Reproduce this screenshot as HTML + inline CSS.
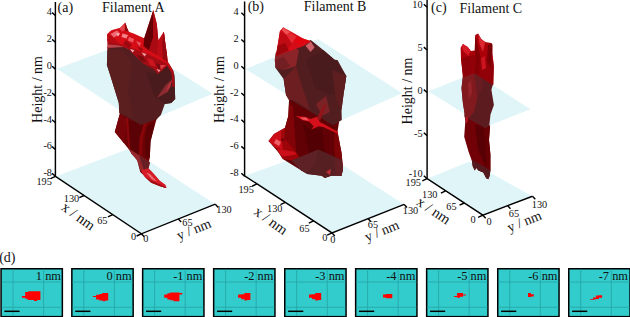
<!DOCTYPE html>
<html><head><meta charset="utf-8"><title>Filaments</title>
<style>
html,body{margin:0;padding:0;background:#fff;}
body{width:630px;height:317px;overflow:hidden;}
svg{display:block;font-family:"Liberation Serif",serif;}
.ax{stroke:#000;stroke-width:1.45;fill:none;stroke-linecap:butt}
.tk{stroke:#000;stroke-width:1.4;fill:none}
.tl{font-size:10.3px;fill:#111;text-anchor:middle}
.al{font-size:14px;fill:#111;text-anchor:middle}
.ti{font-size:14px;fill:#111}
.pl{fill:#e0f5f8}
.pn{font-size:12.4px;fill:#111;text-anchor:end}
</style></head><body>
<svg width="630" height="317" viewBox="0 0 630 317">
<rect width="630" height="317" fill="#fff"/>

<!-- ================= PANEL A ================= -->
<g id="pa">
<!-- bottom plane z=-8 -->
<polygon class="pl" points="55.4,176.4 129.5,148.5 215.3,204.2 141.4,233.8"/>
<!-- filament lower part (below z=0 plane, outside) -->
<polygon fill="#6e0307" points="119.6,112 119.6,114.5 114.8,132 129,149.4 131.5,153.7 137,159.3 140.2,172 149,180 164.8,187.9 166.4,187.3 156,178.3 147.4,168 149.8,157.7 150.5,141.5 156,121 160,112"/>
<polygon fill="#760408" points="119.6,114.5 114.8,132 124,143 127,119"/>
<polygon fill="#5a0205" points="129,120 143,124 140,138 139,158 133,155 129.5,148"/>
<polygon fill="#8c070b" points="126,118 128,118 130.3,149 129,149.4 127.5,140"/>
<polygon fill="#88060a" points="144,123 147.5,122 143,136 141.5,156 139,157 139.5,138"/>
<polygon fill="#5c0205" points="147,126 155,122 150.5,141.5 149.8,157.7 145,157 145,138"/>
<!-- tail through bottom plane -->
<polygon fill="#94282d" points="129.3,148.8 149.9,162.3 148.6,168.6 140.8,171.5 137.3,160.8 131.5,153.7"/>
<polygon fill="#691e23" points="139,155.2 149.9,162.3 148.6,168.6 144,170.3"/>
<polygon fill="#d41a24" points="140.8,170.3 148.6,168.2 153.8,173.8 159.9,180.7 165.4,184.7 166.6,187.9 159.9,186.2 151.2,182.8 144.3,176.6"/>
<polygon fill="#ec6a70" points="146,172.5 150,174 157,181.5 152,179.5"/>
<polygon fill="#9a0c12" points="144.3,176.6 151.2,182.8 159.9,186.2 166.6,187.9 160,184.5 152,181"/>
<!-- z=0 plane -->
<polygon class="pl" points="56.8,68.7 130,41.5 212.7,93.7 140.8,124.3"/>
<!-- filament mid part seen through plane: dark maroon -->
<polygon fill="#541e20" points="107.4,47 120,45 135.8,52 150,60 169.6,64.7 174.4,74.5 175.2,99 171.2,103 164.8,104 160.9,115 157.2,118.8 140.9,124.9 119.3,113 118.8,103 110,74.5 106.9,65"/>
<polygon fill="#4a1b1d" points="146,72 158,74 167.3,66 174.4,76 175.2,99 171.2,103 164.8,104 154,96"/>
<polygon fill="#5c1f20" points="107.4,50 122,50 132,62 128,90 133,118 119.4,112.5 118.8,103 110,74.5 106.9,65"/>
<polygon fill="#8a2a2e" points="172.3,79.3 165.6,85 156.8,98.1 168,92"/>
<polygon fill="#b4323a" points="172.3,79.3 168,85.5 166,91 170,88"/>
<!-- transitional band -->
<polygon fill="#a60c14" points="107.4,38 120,41 135.8,46.5 148.4,51.2 167.3,60.7 173.6,71 174.6,87 172.3,87 171.5,73 167.3,66 157.9,73.9 153.9,69.2 143.7,63.7 135.8,56.6 127.9,48.7 120,46.3 107.4,48.8"/>
<polygon fill="#b84850" points="108,44.5 119,45.5 124,47 119,47.3 108,47.8"/>
<polygon fill="#780a10" points="137,55 143,56.5 146,62 141,61"/>
<polygon fill="#cc1620" points="147,58 153,60 156,67 150,65"/>
<polygon fill="#780a10" points="156,63 161,65 159,71"/>
<polygon fill="#f09aa0" points="156.5,69 160.5,70 158.8,72.3"/>
<polygon fill="#de3c46" points="160,65 166,65 161,69.5"/>
<!-- filament top part above plane: bright red -->
<polygon fill="#d40d17" points="107.2,34 111.3,30.3 120.2,27.7 125.3,22.6 127.2,28.3 128.8,31.8 134.2,33.7 144.2,38.2 147.3,28.7 153.3,10 156.8,23.9 158.4,40.5 163.9,31.8 165.5,44.4 167,55 167.6,62 173.6,73.9 167.3,63.7 148.4,54.2 135.8,49.5 120,44 107.4,41"/>
<polygon fill="#b80a12" points="107.2,34 112,36 117,41 120,44 107.4,41.5"/>
<polygon fill="#8c050a" points="125.3,22.6 127.2,28.3 128.8,31.8 124.5,30.5"/>
<!-- spike shading -->
<polygon fill="#640005" points="153.3,10 147.3,28.7 144.2,38.2 143.5,46 149,50.5 153,38"/>
<polygon fill="#aa0a12" points="153.3,10 153,38 149,50.5 157,55 158.4,40.5 156.8,23.9"/>
<polygon fill="#bc0c16" points="163.9,31.8 158.4,40.5 157,55 167.6,62 167,55 165.5,44.4"/>
<polygon fill="#980810" points="163.9,31.8 162,44 163,59 167.6,62 167,55 165.5,44.4"/>
<!-- highlights -->
<polygon fill="#ee6a72" points="110.5,34 117,30.5 120,33.5 114,37.5"/>
<polygon fill="#f8b8bc" points="116,33.5 120,33.5 118,36.5"/>
<polygon fill="#e6404a" points="119.5,28.5 124.5,24 125,30 122,31.5"/>
<polygon fill="#f2848a" points="122.5,33.5 128,35 126.5,38.5 121.5,37"/>
<polygon fill="#ea5a62" points="129,37 134,39 133,42.5 128,40.5"/>
<polygon fill="#f6b4b8" points="130,49 134.5,50.2 132.5,52.6"/>
<polygon fill="#ea5a62" points="136,41 141,43 139.5,46.5"/>
<polygon fill="#f29ca2" points="141.5,52.5 146.5,54 144.5,56.5"/>
<polygon fill="#9c0810" points="126,40 132,45 129,47.5 123,44"/>
<polygon fill="#9c0810" points="137,46.5 143,49 141,51.5"/>
<!-- axes -->
<path class="ax" d="M55.4,2.0 V176.4 L141.4,233.8 L215.3,204.2"/>
<path class="tk" d="M55.4,15.5 l-3.3,-2.9 M55.4,42.3 l-3.3,-2.9 M55.4,69.1 l-3.3,-2.9 M55.4,95.9 l-3.3,-2.9 M55.4,122.7 l-3.3,-2.9 M55.4,149.5 l-3.3,-2.9 M55.4,176.3 l-3.3,-2.9 M55.4,176.4 l-4.8,2.2 M84.1,195.5 l-4.8,2.2 M112.7,214.7 l-4.8,2.2 M141.4,233.8 l-4.8,2.2 M141.4,233.8 l2.8,3 M178.4,219.0 l2.8,3 M215.3,204.2 l2.8,3"/>
<text class="tl" style="text-anchor:end" x="52.0" y="15.3">4</text>
<text class="tl" style="text-anchor:end" x="52.0" y="42.1">2</text>
<text class="tl" style="text-anchor:end" x="52.0" y="68.9">0</text>
<text class="tl" style="text-anchor:end" x="52.0" y="95.7">-2</text>
<text class="tl" style="text-anchor:end" x="52.0" y="122.5">-4</text>
<text class="tl" style="text-anchor:end" x="52.0" y="149.3">-6</text>
<text class="tl" style="text-anchor:end" x="52.0" y="176.1">-8</text>
<text class="tl" x="44.2" y="185.1">195</text>
<text class="tl" x="71.5" y="202.2">130</text>
<text class="tl" x="102.3" y="223.9">65</text>
<text class="tl" x="133.5" y="240.3">0</text>
<text class="tl" x="145.8" y="241.5">0</text>
<text class="tl" x="187.5" y="225.8">65</text>
<text class="tl" x="224.0" y="212.5">130</text>
<text class="al" transform="translate(41.5,89.5) rotate(-90)">Height / nm</text>
<text class="al" style="font-size:14.6px" transform="translate(75.5,220) rotate(36)">x / nm</text>
<text class="al" transform="translate(195.5,233.5) rotate(-22)">y / nm</text>
<text class="ti" x="57.5" y="12">(a)</text>
<text class="ti" x="102" y="12">Filament A</text>
</g>

<!-- ================= PANEL B ================= -->
<g id="pb">
<polygon class="pl" points="244.6,175.8 318.5,149.5 404.2,204.4 332,232.9"/>
<!-- lower body -->
<polygon fill="#620105" points="289,100 288.3,115.9 285,127.8 274,134 268.5,141 278.8,152.7 282.8,159 301,170.2 307.4,174 321.7,175.7 324.8,178 331.2,175.7 341.5,175.7 343,168.6 341.5,152.7 337.5,131.7 340,116 341.5,100"/>
<polygon fill="#800407" points="289,104 293,106 296,150 292,160 285,150 285,127.8 288.3,115.9"/>
<polygon fill="#7c0306" points="335,128 337.5,131.7 341.5,152.7 343,168.6 341.5,175.7 336,170 334,145"/>
<polygon fill="#520003" points="303,124 312,130 322,128 326,160 310,158"/>
<polygon fill="#9c040a" points="272,143 286,140 296,152 300,158 291.5,160.6 282.8,159 278.8,152.7"/>
<polygon fill="#cc0e18" points="285,127.8 274,134 268.5,141 275.6,147.6 282.8,149.2 281,138"/>
<polygon fill="#ee6068" points="276,139 281,142 279,146 274,143"/>
<polygon fill="#a0080e" points="281,131 285,128.5 284.5,140 281,138"/>
<polygon fill="#cc0e18" points="277,148.5 295,152 296.5,154.5 283,156.5 279,153"/>
<polygon fill="#d6101a" points="295.5,115.9 305.8,117.1 310.6,119 316.9,116.7 320,122.2 323.3,123.8 337.5,131.7 338.3,134.1 323.3,127 318.5,126.2 311.3,129.4 313.7,126.2 309,121.4 302.6,120.3"/>
<polygon fill="#ee5058" points="300,117.5 305.8,117.3 309,120.8 303,119.8"/>
<!-- through bottom plane -->
<polygon fill="#561f22" points="291.5,160.6 318.5,149.5 341.5,159.8 343,168.6 341.5,175.7 331.2,175.7 324.8,178 321.7,175.7 307.4,174 301,170.2"/>
<polygon fill="#5e2125" points="291.5,160.6 318.5,149.5 314,166 306,173 301,170.2"/>
<polygon fill="#622024" points="334,158 341.5,159.8 343,168.6 341.5,175.7 336,175"/>
<polygon fill="#c03038" points="326,172 331,169 330,175"/>
<!-- z=0 plane -->
<polygon class="pl" points="245.5,69 318,39 402,93.2 333,124"/>
<!-- dark body through plane -->
<polygon fill="#521d1f" points="275.9,52.5 291.7,47 306,42.3 310.8,40 323.5,50.2 334.6,59.7 337.5,60 346.3,75.9 343.9,91.7 341.5,110 341.8,120 333,125.2 292.6,101 289,100 286,95 283.6,79 275.6,68 274.8,60"/>
<polygon fill="#8a2429" points="275.9,52.5 291.7,47 299,50 296,66 284,70 275.6,68 274.8,60"/>
<polygon fill="#731e22" points="275.9,60 284,57 290,66 284,70 275.6,68"/>
<polygon fill="#6c1e21" points="283.6,79 296,66 300,80 310,110 293,100 289,100 286,95"/>
<polygon fill="#4a1b1d" points="306,60 323.5,50.2 334.6,59.7 346.3,75.9 343.9,91.7 330,95 315,88"/>
<polygon fill="#5e1e20" points="332,70 346.3,75.9 343.9,91.7 341.5,110 336,100"/>
<polygon fill="#7a2226" points="316,104 326,96 330,112 322,116"/>
<polygon fill="#cc6068" points="305.5,45.8 310.8,41.6 314.5,47.5 310.5,52"/>
<polygon fill="#921419" points="316.9,117.5 324.8,104 326,105 320,121"/>
<!-- top bright -->
<polygon fill="#d40d17" points="283.1,27.2 279.9,31.1 276,56 291.7,50.5 303,46.3 310.8,41.4 310.1,41.1 303.7,38.7 291.8,31.9"/>
<polygon fill="#ee5055" points="283.1,27.6 290.3,32.3 286.3,35.1 281.9,30"/>
<polygon fill="#e22830" points="286.3,35.1 290.3,32.3 296.6,36.7 291.8,43.8"/>
<polygon fill="#c00a14" points="279.9,31.5 286.3,35.1 291.8,43.8 284,52 276,56"/>
<polygon fill="#9c060c" points="277.5,46 285,43 289,50.5 276,56"/>
<polygon fill="#e2050f" points="296.6,36.7 303.7,38.7 310.1,41.1 300,45 294,42"/>
<!-- axes -->
<path class="ax" d="M244.6,1.5 V175.8 L332.0,232.9 L404.2,204.4"/>
<path class="tk" d="M244.6,15.6 l-3.3,-2.9 M244.6,42.4 l-3.3,-2.9 M244.6,69.1 l-3.3,-2.9 M244.6,95.9 l-3.3,-2.9 M244.6,122.6 l-3.3,-2.9 M244.6,149.3 l-3.3,-2.9 M244.6,176.1 l-3.3,-2.9 M257.0,183.9 l-4.8,2.2 M285.3,202.4 l-4.8,2.2 M313.6,220.9 l-4.8,2.2 M332.0,232.9 l-4.8,2.2 M332.0,232.9 l2.8,3 M368.1,218.7 l2.8,3 M404.2,204.4 l2.8,3"/>
<text class="tl" style="text-anchor:end" x="238.6" y="15.4">4</text>
<text class="tl" style="text-anchor:end" x="238.6" y="42.2">2</text>
<text class="tl" style="text-anchor:end" x="238.6" y="68.9">0</text>
<text class="tl" style="text-anchor:end" x="238.6" y="95.6">-2</text>
<text class="tl" style="text-anchor:end" x="238.6" y="122.4">-4</text>
<text class="tl" style="text-anchor:end" x="238.6" y="149.2">-6</text>
<text class="tl" style="text-anchor:end" x="238.6" y="175.9">-8</text>
<text class="tl" x="246.2" y="192.8">195</text>
<text class="tl" x="274.8" y="212.3">130</text>
<text class="tl" x="304.5" y="231.5">65</text>
<text class="tl" x="324.9" y="240.5">0</text>
<text class="tl" x="332.9" y="242.7">0</text>
<text class="tl" x="373.0" y="227.7">65</text>
<text class="tl" x="410.5" y="213.5">130</text>
<text class="al" transform="translate(224,89.5) rotate(-90)">Height / nm</text>
<text class="al" style="font-size:14.6px" transform="translate(268,224.5) rotate(36)">x / nm</text>
<text class="al" transform="translate(383.5,235) rotate(-22)">y / nm</text>
<text class="ti" x="247.7" y="11.3">(b)</text>
<text class="ti" x="303.8" y="11">Filament B</text>
</g>

<!-- ================= PANEL C ================= -->
<g id="pc">
<polygon class="pl" points="427.1,178.7 469.5,161.5 532.5,196.2 482.9,215.2"/>
<!-- lower body -->
<polygon fill="#720007" points="464.2,112 465.3,121.4 464.2,136.7 468.4,151.3 472,161.3 472.7,166.2 474.8,170.5 476.2,167.7 478.4,170.5 483.3,172.6 486.2,178.3 488.3,179.2 489.6,176 490.4,170.5 490.4,154.2 489,140 490.1,125.2 492.4,112"/>
<polygon fill="#580004" points="475,125 484,125.2 486,148 486,168 478,150"/>
<polygon fill="#660005" points="484,125.2 490.1,125.2 489,140 490.4,154.2 490.4,170.5 486,168 486,148"/>
<polygon fill="#551a1d" points="471.8,159.6 490.4,170.3 489.6,176 488.3,179.2 486.2,178.3 483.3,172.6 478.4,170.5 476.2,167.7 474.8,170.5 472.7,166.2 472,161.3"/>
<!-- z=0 plane -->
<polygon class="pl" points="428.4,91.3 474.3,73 530.5,109.2 485.5,127"/>
<!-- through plane -->
<polygon fill="#5c1b1e" points="463,75.5 474.3,71.6 493.2,83.6 491.4,89.8 493.9,105 490.5,114.5 489.3,125.5 485.6,128.2 464.6,117 464.8,114.5 462.9,103 461.5,87.9"/>
<polygon fill="#801a1f" points="463,75.5 474.3,71.6 480,74.5 478,95 474,112 469,118 465,116 462.9,103 461.5,87.9"/>
<polygon fill="#96242a" points="468,84 471,80 472,92 469,100"/>
<polygon fill="#b8161f" points="465.3,117.2 467.6,116.8 468,121 466,123.2"/>
<polygon fill="#661c20" points="474.3,73 484,77 482,90 477,96"/>
<!-- top bright -->
<polygon fill="#aa000a" points="462.9,44.1 460.6,47.7 461,59 463,77 474.3,73 493.2,85 493.8,66.6 492.3,50.9 492.3,44.5 491.1,42.9 485.2,42.1 481.2,39 478.1,33.5 475.2,35 474.8,50.5 470.9,50.9 467.7,46.9"/>
<polygon fill="#920008" points="461,58 474,55 493,60 493.8,66.6 493.2,85 474.3,73 463,77"/>
<polygon fill="#820005" points="475.2,35 474.8,50.5 476,62 474.3,73 479,75.5 480,55 477,42"/>
<polygon fill="#780005" points="488,45 491.1,42.9 492.3,44.5 492.3,50.9 490.5,68 487,60"/>
<polygon fill="#8c0208" points="463,60 468,56 471,66 470,74.5 463,77"/>
<polygon fill="#d41a24" points="462.9,44.1 467.7,46.9 470.5,50.5 468.5,56 464,52 461.5,47.5"/>
<polygon fill="#dc2630" points="478.1,33.5 481.2,39 485.2,42.1 483,52 479.5,44"/>
<polygon fill="#cc1420" points="481,58 485,56 486,68 482,70"/>
<!-- axes -->
<path class="ax" d="M427.1,0.0 V178.7 L482.9,215.2 L532.5,196.2"/>
<path class="tk" d="M427.1,7.1 l-3.3,-2.9 M427.1,50.0 l-3.3,-2.9 M427.1,92.5 l-3.3,-2.9 M427.1,135.6 l-3.3,-2.9 M427.1,178.7 l-3.3,-2.9 M427.1,178.7 l-4.8,2.2 M445.7,190.9 l-4.8,2.2 M464.3,203.0 l-4.8,2.2 M482.9,215.2 l-4.8,2.2 M482.9,215.2 l2.8,3 M507.7,205.7 l2.8,3 M532.5,196.2 l2.8,3"/>
<text class="tl" style="text-anchor:end" x="422.6" y="8.1">10</text>
<text class="tl" style="text-anchor:end" x="422.6" y="51.0">5</text>
<text class="tl" style="text-anchor:end" x="422.6" y="93.5">0</text>
<text class="tl" style="text-anchor:end" x="422.6" y="136.6">-5</text>
<text class="tl" style="text-anchor:end" x="422.6" y="177.4">-10</text>
<text class="tl" x="413.3" y="186.3">195</text>
<text class="tl" x="429.8" y="197.9">130</text>
<text class="tl" x="451.5" y="209.8">65</text>
<text class="tl" x="473.0" y="222.5">0</text>
<text class="tl" x="489.2" y="224.5">0</text>
<text class="tl" x="514.0" y="216.5">65</text>
<text class="tl" x="539.5" y="207.5">130</text>
<text class="al" transform="translate(411.5,91) rotate(-90)">Height / nm</text>
<text class="al" style="font-size:14.6px" transform="translate(431,214.5) rotate(34)">x / nm</text>
<text class="al" transform="translate(526,225.5) rotate(-22)">y / nm</text>
<text class="ti" x="431" y="12.4">(c)</text>
<text class="ti" x="459.5" y="12.6">Filament C</text>
</g>

<!-- ================= ROW D ================= -->
<text class="ti" x="-0.8" y="262">(d)</text>
<defs>
<g id="pnl">
<rect x="0.75" y="0.75" width="61.3" height="47.9" fill="#33cccc" stroke="#000" stroke-width="1.5"/>
<path d="M12.7,1.5 V48 M43.3,1.5 V48 M1.5,14 H61.5 M1.5,39.3 H61.5" stroke="#27a6a8" stroke-width="0.9" fill="none"/>
<path d="M4.1,43.3 H19.3" stroke="#000" stroke-width="1.5"/>
</g>
</defs>
<g transform="translate(0.3,268)"><use href="#pnl"/><text class="pn" x="60.7" y="12.4">1 nm</text></g>
<g transform="translate(71.1,268)"><use href="#pnl"/><text class="pn" x="60.5" y="12.4">0 nm</text></g>
<g transform="translate(141.9,268)"><use href="#pnl"/><text class="pn" x="60.5" y="12.4">-1 nm</text></g>
<g transform="translate(212.9,268)"><use href="#pnl"/><text class="pn" x="60.5" y="12.4">-2 nm</text></g>
<g transform="translate(284,268)"><use href="#pnl"/><text class="pn" x="60.5" y="12.4">-3 nm</text></g>
<g transform="translate(354.9,268)"><use href="#pnl"/><text class="pn" x="60.5" y="12.4">-4 nm</text></g>
<g transform="translate(425.9,268)"><use href="#pnl"/><text class="pn" x="60.5" y="12.4">-5 nm</text></g>
<g transform="translate(497,268)"><use href="#pnl"/><text class="pn" x="60.5" y="12.4">-6 nm</text></g>
<g transform="translate(568,268)"><use href="#pnl"/><text class="pn" x="60" y="12.4">-7 nm</text></g>
<g fill="#ff0000">
<polygon points="21.9,296.1 25.2,296.1 25.2,292 28.3,292 28.3,291.3 40.4,291.3 40.4,299.9 37.2,299.9 37.2,300.9 34,300.9 34,299.9 27.7,299.9 27.7,298.7 25.2,298.7 25.2,297.7 21.9,297.7"/>
<polygon points="92.9,296.1 96.1,296.1 96.1,294.8 99.3,294.8 99.3,293.9 102.1,293.9 102.1,292.9 108.2,292.9 108.2,300.6 105.3,300.6 105.3,301.2 102.8,301.2 102.8,300.6 99.3,300.6 99.3,299.6 96.1,299.6 96.1,297.1 92.9,297.1"/>
<polygon points="164.2,294.5 167.4,294.5 167.4,293.3 170.2,293.3 170.2,292.5 179.4,292.5 179.4,292.9 182.3,292.9 182.3,294.5 179.4,294.5 179.4,301.2 173.4,301.2 173.4,300.2 170.2,300.2 170.2,299.6 167.4,299.6 167.4,297.7 164.2,297.7"/>
<polygon points="238.1,294.5 241.2,294.5 241.2,294.2 244.4,294.2 244.4,293.1 250.4,293.1 250.4,299.9 247,299.9 247,300.6 244.4,300.6 244.4,299.3 241.2,299.3 241.2,297.7 238.1,297.7"/>
<polygon points="309,294.5 312.1,294.5 312.1,294.2 315.3,294.2 315.3,293.1 321.2,293.1 321.2,299.9 318.2,299.9 318.2,300.6 315.3,300.6 315.3,299.3 312.1,299.3 312.1,297.7 309,297.7"/>
<polygon points="383,294.5 386,294.5 386,294 392.3,294 392.3,298.3 386,298.3 386,297.4 383,297.4"/>
<polygon points="454,296.1 457.1,296.1 457.1,293.1 463,293.1 463,294.4 466,294.4 466,295.5 463,295.5 463,296.7 460,296.7 460,297.7 457.1,297.7 457.1,297.1 454,297.1"/>
<polygon points="528,292.9 531,292.9 531,294.2 533.8,294.2 533.8,296.4 531,296.4 531,297.1 528,297.1"/>
<polygon points="590.2,299.2 593,299.2 593,297.4 595.9,297.4 595.9,295.5 599,295.5 599,295.2 602.1,295.2 602.1,297.7 599,297.7 599,299 595.9,299 595.9,299.6 593,299.6 593,299.9 590.2,299.9"/>
</g>
</svg>
</body></html>
